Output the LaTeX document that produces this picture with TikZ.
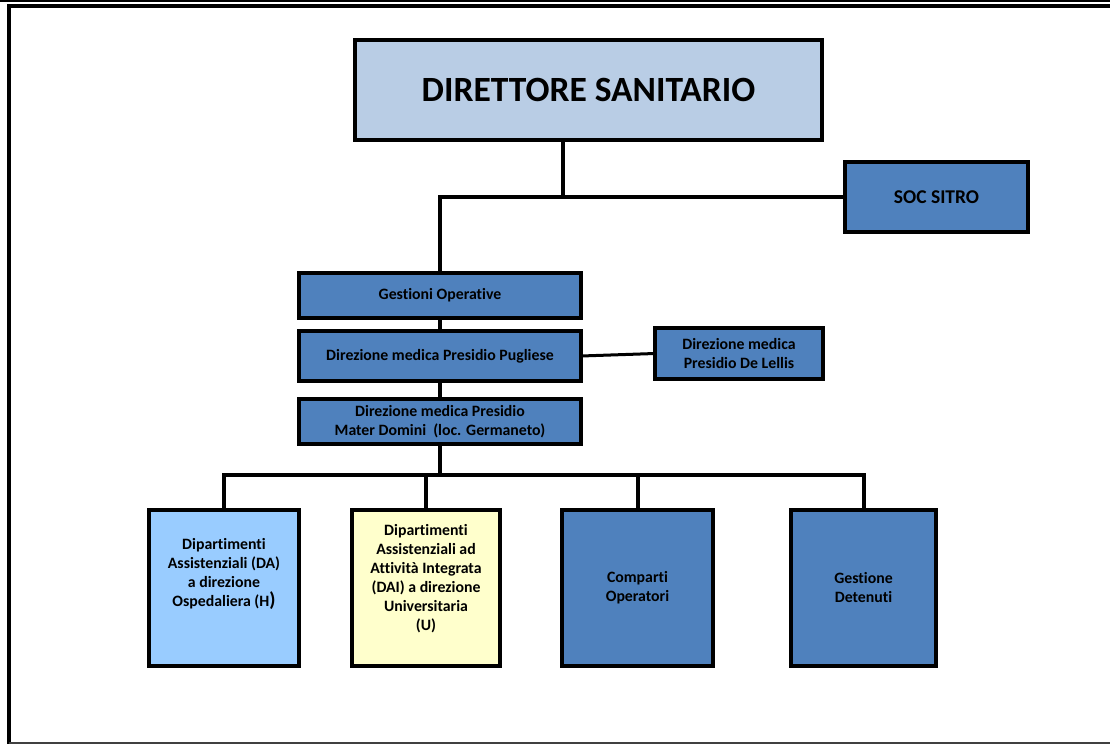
\documentclass[tikz,border=0pt]{standalone}
\usepackage{fontspec}
\setmainfont{Carlito}[Ligatures=NoCommon]
\definecolor{lblue}{HTML}{B9CDE5}
\definecolor{dblue}{HTML}{4F81BD}
\definecolor{sky}{HTML}{99CCFF}
\definecolor{pale}{HTML}{FFFFCC}
\definecolor{frame}{HTML}{404040}
\tikzset{
  orgbox/.style={draw=black, line width=3.5pt, rectangle, inner sep=0pt, outer sep=0pt, align=center, font=\bfseries\fontsize{15.8}{19}\selectfont},
  txt/.style={align=center, inner sep=0pt, font=\bfseries\fontsize{15.8}{19}\selectfont},
  wire/.style={line width=4pt, line cap=rect}
}
\begin{document}
\begin{tikzpicture}[x=1pt,y=-1pt]
\useasboundingbox (0,0) rectangle (1110,744);
% page frame
\draw[line width=1.5pt, black] (0,1) -- (1110,1);
\draw[line width=4pt, black] (9,6) -- (1110,6);
\draw[line width=4pt, black] (9,4) -- (9,744);
\draw[line width=1.5pt, frame] (9,743) -- (1110,743);
% boxes
\node[orgbox, fill=lblue, minimum width=467pt, minimum height=100pt] (ds) at (588.5,90) {};
\node[txt, font=\bfseries\fontsize{35.5}{40}\selectfont] (dst) at (ds.center) {DIRETTORE SANITARIO};
\node[orgbox, fill=dblue, minimum width=183pt, minimum height=70pt, font=\bfseries\fontsize{19.5}{22}\selectfont] (soc) at (936.5,197) {SOC SITRO};
\node[orgbox, fill=dblue, minimum width=282pt, minimum height=45pt] (go) at (440,295.5) {Gestioni Operative};
\node[orgbox, fill=dblue, minimum width=282pt, minimum height=50pt] (pug) at (440,356) {Direzione medica Presidio Pugliese};
\node[orgbox, fill=dblue, minimum width=168pt, minimum height=51pt] (del) at (739,353.5) {Direzione medica\\Presidio De Lellis};
\node[orgbox, fill=dblue, minimum width=282pt, minimum height=45pt] (mat) at (440,421.5) {Direzione medica Presidio\\Mater Domini\ \ (loc. Germaneto)};
\node[orgbox, fill=sky, minimum width=150pt, minimum height=156pt] (da) at (224,588) {};
\node[txt] (dat) at (224,573.5) {Dipartimenti\\Assistenziali (DA)\\a direzione\\Ospedaliera (H{\fontsize{20}{19}\selectfont )}};
\node[orgbox, fill=pale, minimum width=148pt, minimum height=156pt] (dai) at (426,588) {};
\node[txt] (dait) at (426,579) {Dipartimenti\\Assistenziali ad\\Attività Integrata\\(DAI) a direzione\\Universitaria\\(U)};
\node[orgbox, fill=dblue, minimum width=151pt, minimum height=156pt] (comp) at (637.5,588) {Comparti\\Operatori};
\node[orgbox, fill=dblue, minimum width=145pt, minimum height=156pt] (det) at (863.5,588) {Gestione\\Detenuti};
% junctions
\coordinate (j1) at (563,197);
\coordinate (j2) at (440,197);
\coordinate (bus) at (440,475);
\coordinate (busl) at (224,475);
\coordinate (busr) at (864,475);
% connectors
\draw[wire] (ds.south -| j1) -- (j1);
\draw[wire] (j2) -- (soc.west);
\draw[wire] (j2) -- (go.north);
\draw[wire] (go.south) -- (pug.north);
\draw[wire] (pug.south) -- (mat.north);
\draw[wire] (mat.south) -- (bus);
\draw[wire] (busl) -- (busr);
\draw[wire] (busl) -- (da.north);
\draw[wire] (dai.north |- bus) -- (dai.north);
\draw[wire] (comp.north |- bus) -- (comp.north);
\draw[wire] (busr) -- (det.north -| busr);
\draw[line width=3pt] (pug.east) -- (del.west);
\end{tikzpicture}
\end{document}
